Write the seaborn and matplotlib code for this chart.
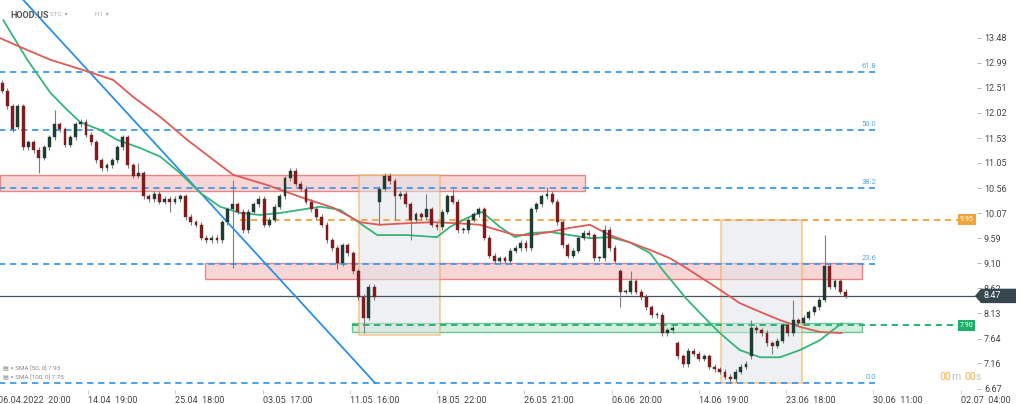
import numpy as np
import pandas as pd
import matplotlib
matplotlib.use("Agg")
import matplotlib.pyplot as plt
import seaborn as sns
from matplotlib.patches import Rectangle, Polygon
from matplotlib.transforms import blended_transform_factory

# ---- data (hourly HOOD.US candles, one per bar slot) ----
CLOSES = [
    12.45, 12.15, 11.70, 12.15, 11.35, 11.45, 11.30, 11.15, 11.35, 11.55,
    11.80, 11.70, 11.40, 11.55, 11.80, 11.85, 11.60, 11.45, 11.10, 10.95,
    11.00, 11.10, 11.35, 11.55, 11.00, 10.80, 10.85, 10.40, 10.35, 10.45,
    10.30, 10.35, 10.30, 10.35, 10.40, 10.00, 9.90, 9.85, 9.60, 9.55,
    9.60, 9.55, 9.90, 10.15, 10.25, 10.10, 9.75, 10.10, 10.25, 10.35,
    9.85, 9.95, 10.20, 10.40, 10.75, 10.90, 10.65, 10.55, 10.30, 10.15,
    10.00, 9.85, 9.55, 9.40, 9.10, 9.45, 9.30, 8.95, 8.45, 8.05,
    8.65, 8.45, 10.55, 10.80, 10.70, 10.40, 10.45, 10.25, 9.95, 10.05,
    10.00, 10.15, 9.85, 9.80, 10.10, 10.40, 10.30, 9.75, 9.75, 9.95,
    10.05, 10.15, 9.60, 9.25, 9.15, 9.20, 9.15, 9.35, 9.40, 9.50,
    9.40, 10.15, 10.25, 10.40, 10.45, 10.30, 9.90, 9.45, 9.25, 9.35,
    9.60, 9.70, 9.65, 9.20, 9.20, 9.75, 9.40, 9.15, 8.55, 8.55,
    8.75, 8.55, 8.45, 8.25, 8.10, 8.10, 7.75, 7.80, 7.85, 7.30,
    7.15, 7.40, 7.35, 7.25, 7.30, 7.10, 7.05, 7.00, 6.90, 6.85,
    7.00, 7.10, 7.15, 7.85, 7.80, 7.75, 7.55, 7.50, 7.60, 7.90,
    7.75, 8.00, 7.95, 8.05, 8.15, 8.25, 8.40, 9.05, 8.65, 8.75,
    8.55, 8.47,
]
FIRST_OPEN = 12.60
GAP_OPENS = {3: 11.75, 72: 10.30, 118: 8.95, 129: 7.55, 143: 7.30}
WICK_HIGHS = {0: 12.66, 10: 12.08, 26: 11.05, 44: 10.72, 55: 10.95, 73: 10.85,
              81: 10.45, 86: 10.55, 104: 10.58, 115: 9.85, 120: 8.95, 143: 8.00,
              151: 8.40, 157: 9.65}
WICK_LOWS = {7: 10.85, 32: 10.10, 44: 9.01, 64: 9.00, 69: 7.75, 72: 9.85,
             75: 9.95, 78: 9.55, 118: 8.25, 139: 6.78, 147: 7.35}

SMA50_BARS = [0.2, 4.8, 9.2, 12.4, 14.9, 18.7, 21.9, 26.3, 30.2, 34.0, 37.8, 41.6,
              45.4, 49.2, 53.1, 56.9, 60.7, 64.5, 68.3, 71.6, 77.3, 83.0, 85.5,
              88.7, 91.6, 95.0, 97.9, 100.8, 104.6, 108.4, 112.2, 116.0, 119.8,
              123.7, 126.1, 128.8, 130.3, 133.2, 137.0, 140.8, 144.7, 148.5,
              152.3, 156.1, 158.6, 160.3]
SMA50_VALUES = [13.82, 13.05, 12.41, 12.08, 11.84, 11.69, 11.50, 11.34, 11.17, 10.85,
                10.47, 10.20, 10.08, 10.04, 10.08, 10.14, 10.20, 10.14, 9.88, 9.65,
                9.65, 9.61, 9.81, 9.98, 10.10, 9.81, 9.61, 9.69, 9.71, 9.65, 9.59,
                9.61, 9.51, 9.30, 8.97, 8.64, 8.45, 8.14, 7.75, 7.42, 7.28, 7.28,
                7.42, 7.61, 7.81, 7.94]
SMA100_BARS = [-0.4, 3.4, 9.2, 15.5, 21.2, 25.0, 30.2, 35.3, 40.3, 44.1, 50.6, 56.9,
               63.2, 68.3, 72.1, 77.3, 82.3, 86.8, 91.2, 97.9, 100.8, 104.6, 108.4,
               112.2, 116.0, 119.8, 123.7, 127.5, 130.3, 133.2, 137.0, 140.8,
               144.7, 148.5, 152.3, 156.1, 160.3]
SMA100_VALUES = [13.47, 13.30, 13.05, 12.85, 12.66, 12.33, 11.94, 11.50, 11.11, 10.82,
                 10.62, 10.39, 10.18, 9.90, 9.85, 9.88, 9.90, 9.88, 9.85, 9.65, 9.65,
                 9.71, 9.79, 9.85, 9.65, 9.51, 9.36, 9.20, 9.03, 8.84, 8.59, 8.33,
                 8.16, 8.00, 7.87, 7.77, 7.75]

FIB_LEVELS = [12.81, 11.69, 10.56, 9.09, 6.78]
FIB_LABELS = ["61.8", "50.0", "38.2", "23.6", "0.0"]
FIB_END = 166.6

TREND_BARS = [-0.4, 71.2]
TREND_PRICES = [14.70, 6.78]

RESISTANCE_ZONES = [(-0.4, 111.3, 10.50, 10.82), (38.7, 164.1, 8.80, 9.11)]
SUPPORT_ZONE = (66.8, 164.1, 7.77, 7.94)
PATTERN_BOXES = [(68.1, 83.6, 7.71, 10.82), (137.2, 152.7, 6.78, 9.95)]

ALERT_LEVEL, ALERT_START = 9.95, 45.4
SUPPORT_LEVEL, SUPPORT_START = 7.90, 66.8
LAST_PRICE = 8.47
LINE_END = 182.4

Y_TICKS = [13.48, 12.99, 12.51, 12.02, 11.53, 11.05, 10.56, 10.07, 9.59, 9.10,
           8.62, 8.13, 7.64, 7.16, 6.67]
X_TICK_BARS = [-0.79, 16.4, 33.0, 49.7, 66.4, 83.0, 99.7, 116.4, 133.0, 149.7, 166.3, 183.0]
X_TICK_LABELS = ["06.04.2022  20:00", "14.04  19:00", "25.04  18:00", "03.05  17:00",
                 "11.05  16:00", "18.05  22:00", "26.05  21:00", "06.06  20:00",
                 "14.06  19:00", "23.06  18:00", "30.06  11:00", "02.07  04:00"]

sns.set_theme(style="white")
plt.rcParams["font.family"] = ["Roboto", "DejaVu Sans"]

# build OHLC frame
bars = np.arange(len(CLOSES))
opens = [FIRST_OPEN] + CLOSES[:-1]
for k, v in GAP_OPENS.items():
    opens[k] = v
wick = 0.05
df = pd.DataFrame({"bar": bars, "open": opens, "close": CLOSES})
df["high"] = [WICK_HIGHS.get(k, max(o, c) + wick) for k, o, c in zip(bars, df["open"], df["close"])]
df["low"] = [WICK_LOWS.get(k, min(o, c) - wick) for k, o, c in zip(bars, df["open"], df["close"])]
df["up"] = df["close"] >= df["open"]

fig = plt.figure(figsize=(10.23, 4.04), dpi=100)
ax = fig.add_axes([-2 / 1023, 14 / 404, 979 / 1023, 390 / 404])
ax.set_xlim(-0.8, 186.1)
ax.set_ylim(6.645, 14.21)

blue = "#3d9be9"
# zones and boxes
for x0, x1, y0, y1 in RESISTANCE_ZONES:
    ax.add_patch(Rectangle((x0, y0), x1 - x0, y1 - y0, facecolor="#f7c9c9", alpha=0.75,
                           edgecolor="#e06666", lw=1.0, zorder=1))
x0, x1, y0, y1 = SUPPORT_ZONE
ax.add_patch(Rectangle((x0, y0), x1 - x0, y1 - y0, facecolor="#c8ecd9", alpha=0.8,
                       edgecolor="#49b884", lw=1.0, zorder=1))
for x0, x1, y0, y1 in PATTERN_BOXES:
    ax.add_patch(Rectangle((x0, y0), x1 - x0, y1 - y0, facecolor="#dfe3e8", alpha=0.5,
                           edgecolor="#f2a33a", lw=1.3, zorder=1.2))

# fibonacci levels
for lvl, lab in zip(FIB_LEVELS, FIB_LABELS):
    ax.plot([-0.8, FIB_END], [lvl, lvl], color=blue, lw=1.3, dashes=(3.5, 2.6), zorder=2)
    ax.text(FIB_END + 0.3, lvl + 0.06, lab, color="#5aa9e6", fontsize=5.5,
            ha="right", va="bottom", zorder=5)

# alert / support / last price lines
ax.plot([ALERT_START, LINE_END], [ALERT_LEVEL] * 2, color="#f2a33a", lw=1.3, dashes=(3.5, 2.6), zorder=2)
ax.plot([SUPPORT_START, LINE_END], [SUPPORT_LEVEL] * 2, color="#1fae6a", lw=1.3, dashes=(3.5, 2.6), zorder=2)
ax.axhline(LAST_PRICE, color="#4a5560", lw=0.9, zorder=2)

# trend line
ax.plot(TREND_BARS, TREND_PRICES, color="#2b8fe6", lw=1.3, zorder=2.5)

# moving averages
sma = pd.concat([
    pd.DataFrame({"bar": SMA50_BARS, "value": SMA50_VALUES, "sma": "SMA 50"}),
    pd.DataFrame({"bar": SMA100_BARS, "value": SMA100_VALUES, "sma": "SMA 100"}),
])
sns.lineplot(data=sma, x="bar", y="value", hue="sma", palette={"SMA 50": "#35b57a", "SMA 100": "#e05a55"},
             sort=False, lw=1.3, legend=False, ax=ax, zorder=2.6)

# candles
ax.vlines(df["bar"], df["low"], df["high"], color="#7d7d7d", lw=0.8, zorder=3)
body = (df["close"] - df["open"]).abs().clip(lower=0.025)
bottom = df[["open", "close"]].min(axis=1)
colors = np.where(df["up"], "#1e3d30", "#7e1d1d")
ax.bar(df["bar"], body, bottom=bottom, width=0.55, color=colors, edgecolor=colors, lw=0.3, zorder=3.2)

# axes styling
for s in ax.spines.values():
    s.set_visible(False)
ax.yaxis.tick_right()
ax.set_yticks(Y_TICKS)
ax.set_yticklabels([f"{t:.2f}" for t in Y_TICKS])
ax.tick_params(axis="y", length=3, width=0.6, color="#aaaaaa", pad=2, labelsize=6.5, labelcolor="#444444", right=True)
ax.set_xticks(X_TICK_BARS)
ax.set_xticklabels(X_TICK_LABELS, ha="left")
ax.tick_params(axis="x", length=3, width=0.5, color="#bbbbbb", pad=1, labelsize=6.5, labelcolor="#444444", bottom=True)
ax.set_xlabel("")
ax.set_ylabel("")

# price labels on right edge
ax.text(LINE_END + 0.4, ALERT_LEVEL, f"{ALERT_LEVEL:.2f}", color="white", fontsize=5, ha="left", va="center",
        bbox=dict(boxstyle="square,pad=0.3", fc="#f2a33a", ec="none"), zorder=6)
ax.text(LINE_END + 0.4, SUPPORT_LEVEL, f"{SUPPORT_LEVEL:.2f}", color="white", fontsize=5, ha="left", va="center",
        bbox=dict(boxstyle="square,pad=0.3", fc="#1fae6a", ec="none"), zorder=6)
tr = blended_transform_factory(fig.transFigure, ax.transData)
h = 0.14
tag = Polygon([(975 / 1023, LAST_PRICE), (981 / 1023, LAST_PRICE + h), (1016 / 1023, LAST_PRICE + h),
               (1016 / 1023, LAST_PRICE - h), (981 / 1023, LAST_PRICE - h)],
              closed=True, transform=tr, facecolor="#37474f", edgecolor="none", clip_on=False, zorder=7)
fig.patches.append(tag)
fig.text(983 / 1023, LAST_PRICE, f"{LAST_PRICE:.2f}", transform=tr, color="white", fontsize=6.5,
         ha="left", va="center", zorder=8)

# header and legend texts
fig.text(10 / 1023, 1 - 15 / 404, "HOOD.US", fontsize=6.5, color="#555555", fontweight="bold", va="center")
fig.text(50 / 1023, 1 - 15 / 404, "STC  ▾", fontsize=4.5, color="#aaaaaa", va="center")
fig.text(95 / 1023, 1 - 15 / 404, "H1  ▾", fontsize=4.5, color="#aaaaaa", va="center")
fig.text(3 / 1023, 1 - 368 / 404, "▤ × SMA [50, 0] 7.93", fontsize=4.5, color="#888888", va="center")
fig.text(3 / 1023, 1 - 377 / 404, "▤ × SMA [100, 0] 7.75", fontsize=4.5, color="#888888", va="center")
for x, s, c in [(939, "00", "#f5b041"), (951, "m", "#c4c4c4"), (964, "00", "#f5b041"), (976, "s", "#c4c4c4")]:
    fig.text(x / 1023, 1 - 377 / 404, s, fontsize=7.5, color=c, va="center")

fig.savefig("out.png", dpi=100)
plt.close(fig)
